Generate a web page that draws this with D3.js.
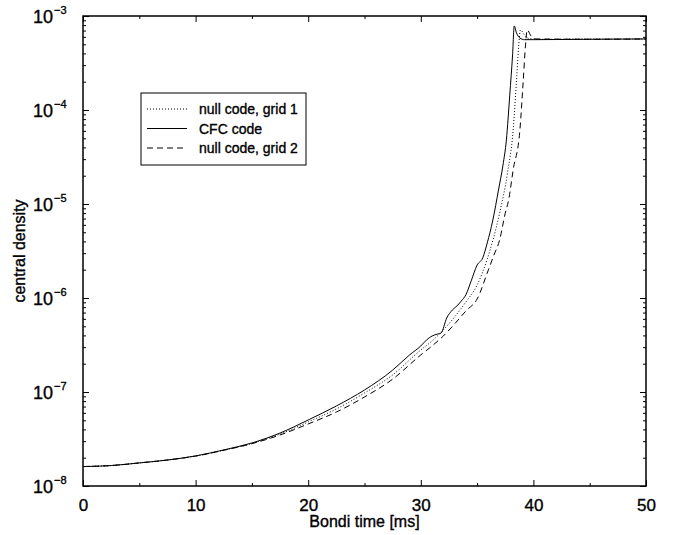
<!DOCTYPE html>
<html>
<head>
<meta charset="utf-8">
<script src="https://cdn.jsdelivr.net/npm/d3@7"></script>
<style>
  html, body { margin: 0; padding: 0; background: #fff; }
  svg { display: block; font-family: "Liberation Sans", Arial, Helvetica, sans-serif; }
  text { fill: #000; stroke: #000; stroke-width: 0.35px; }
</style>
</head>
<body>
<svg id="chart" width="673" height="535"></svg>
<script>
// Central density vs Bondi time for three runs
const xTicks = [0, 10, 20, 30, 40, 50];
const xMinorTicks = [5, 15, 25, 35, 45];
const yExponents = [-8, -7, -6, -5, -4, -3];

const legendLabels = ["null code, grid 1", "CFC code", "null code, grid 2"];

// null code, grid 1 (dotted)
const grid1Time = [0, 2.5, 5, 7.5, 10, 12.5, 15, 17.5, 20, 22.5, 25, 27.5, 30, 31, 32, 33, 34, 35, 35.9, 37, 37.7, 38.2, 38.5, 38.7, 38.85, 39.2, 39.6, 40.5, 45, 50];
const grid1Density = [1.61e-8, 1.65e-8, 1.76e-8, 1.89e-8, 2.08e-8, 2.4e-8, 2.83e-8, 3.57e-8, 4.8e-8, 6.6e-8, 9.75e-8, 1.52e-7, 2.8e-7, 3.49e-7, 4.57e-7, 6.28e-7, 9.07e-7, 1.37e-6, 2.6e-6, 8.0e-6, 2.14e-5, 6.1e-5, 2.08e-4, 4.9e-4, 7.1e-4, 6.3e-4, 5.75e-4, 5.65e-4, 5.7e-4, 5.7e-4];

// CFC code (solid)
const cfcTime = [0, 2.5, 5, 7.5, 10, 12.5, 15, 17.5, 20, 22.5, 25, 27.5, 29, 30, 30.5, 31, 31.5, 31.8, 32.3, 32.8, 33.3, 33.6, 34, 34.5, 35, 35.5, 35.9, 36.4, 36.9, 37.3, 37.6, 37.9, 38.15, 38.3, 38.5, 38.8, 39.2, 40, 45, 50];
const cfcDensity = [1.61e-8, 1.65e-8, 1.76e-8, 1.89e-8, 2.09e-8, 2.42e-8, 2.87e-8, 3.66e-8, 5.04e-8, 7.1e-8, 1.05e-7, 1.71e-7, 2.48e-7, 3.09e-7, 3.57e-7, 3.94e-7, 4.14e-7, 4.24e-7, 6.12e-7, 7.45e-7, 8.43e-7, 9.3e-7, 1.08e-6, 1.55e-6, 2.24e-6, 2.67e-6, 3.85e-6, 6.76e-6, 1.41e-5, 2.6e-5, 4.8e-5, 1.44e-4, 3.85e-4, 7.83e-4, 6.6e-4, 5.83e-4, 5.6e-4, 5.6e-4, 5.65e-4, 5.7e-4];

// null code, grid 2 (dashed)
const grid2Time = [0, 2.5, 5, 7.5, 10, 12.5, 15, 17.5, 20, 22.5, 25, 27.5, 30, 31, 32, 33, 34, 35, 36, 36.5, 37, 37.5, 37.8, 38.2, 38.8, 39.1, 39.3, 39.45, 39.8, 40.3, 45, 50];
const grid2Density = [1.61e-8, 1.65e-8, 1.76e-8, 1.89e-8, 2.08e-8, 2.4e-8, 2.82e-8, 3.49e-8, 4.57e-8, 6.12e-8, 8.85e-8, 1.37e-7, 2.48e-7, 3.09e-7, 3.94e-7, 5.29e-7, 7.27e-7, 9.75e-7, 1.99e-6, 2.87e-6, 4.14e-6, 8.0e-6, 1.1e-5, 2.3e-5, 6.1e-5, 2.08e-4, 4.9e-4, 7.1e-4, 6.1e-4, 5.7e-4, 5.65e-4, 5.7e-4];

const svg = d3.select("#chart");
const plotLeft = 83, plotRight = 646, plotTop = 16, plotBottom = 486;

const x = d3.scaleLinear().domain([0, 50]).range([plotLeft, plotRight]);
const y = d3.scaleLog().domain([1e-8, 1e-3]).range([plotBottom, plotTop]);

const series = [
  { time: grid1Time, value: grid1Density, dash: "1,2" },
  { time: cfcTime, value: cfcDensity, dash: null },
  { time: grid2Time, value: grid2Density, dash: "6,4" }
];

const line = d3.line()
  .x(d => x(d[0]))
  .y(d => y(d[1]))
  .curve(d3.curveMonotoneX);

const plot = svg.append("g");
series.forEach(s => {
  plot.append("path")
    .datum(s.time.map((t, i) => [t, s.value[i]]))
    .attr("d", line)
    .attr("fill", "none")
    .attr("stroke", "#000")
    .attr("stroke-width", 1)
    .attr("stroke-dasharray", s.dash);
});

// Frame with inward ticks on all four sides
const majorLen = 6, minorLen = 3;

const axisBottom = d3.axisBottom(x).tickValues(xTicks).tickSizeInner(-majorLen).tickSizeOuter(0).tickPadding(13).tickFormat(d3.format("d"));
const gB = svg.append("g").attr("transform", `translate(0,${plotBottom})`).call(axisBottom);
gB.select(".domain").remove();
gB.selectAll("text").attr("font-size", 17).attr("font-family", "Liberation Sans, Arial, sans-serif");

const minorB = d3.axisBottom(x).tickValues(xMinorTicks).tickSizeInner(-minorLen).tickSizeOuter(0).tickFormat("");
svg.append("g").attr("transform", `translate(0,${plotBottom})`).call(minorB).select(".domain").remove();

const axisTop = d3.axisTop(x).tickValues(xTicks).tickSizeInner(-majorLen).tickSizeOuter(0).tickFormat("");
svg.append("g").attr("transform", `translate(0,${plotTop})`).call(axisTop).select(".domain").remove();
const minorT = d3.axisTop(x).tickValues(xMinorTicks).tickSizeInner(-minorLen).tickSizeOuter(0).tickFormat("");
svg.append("g").attr("transform", `translate(0,${plotTop})`).call(minorT).select(".domain").remove();

const majorY = yExponents.map(e => Math.pow(10, e));
const minorY = [];
yExponents.slice(0, -1).forEach(e => {
  for (let k = 2; k <= 9; k++) minorY.push(k * Math.pow(10, e));
});

const axisLeft = d3.axisLeft(y).tickValues(majorY).tickSizeInner(-majorLen).tickSizeOuter(0).tickFormat("");
svg.append("g").attr("transform", `translate(${plotLeft},0)`).call(axisLeft).select(".domain").remove();
const minorL = d3.axisLeft(y).tickValues(minorY).tickSizeInner(-minorLen).tickSizeOuter(0).tickFormat("");
svg.append("g").attr("transform", `translate(${plotLeft},0)`).call(minorL).select(".domain").remove();
const axisRight = d3.axisRight(y).tickValues(majorY).tickSizeInner(-majorLen).tickSizeOuter(0).tickFormat("");
svg.append("g").attr("transform", `translate(${plotRight},0)`).call(axisRight).select(".domain").remove();
const minorR = d3.axisRight(y).tickValues(minorY).tickSizeInner(-minorLen).tickSizeOuter(0).tickFormat("");
svg.append("g").attr("transform", `translate(${plotRight},0)`).call(minorR).select(".domain").remove();

svg.selectAll(".tick line").attr("stroke", "#000").attr("stroke-width", 1);

svg.append("rect")
  .attr("x", plotLeft).attr("y", plotTop)
  .attr("width", plotRight - plotLeft).attr("height", plotBottom - plotTop)
  .attr("fill", "none").attr("stroke", "#000").attr("stroke-width", 1.5);

// Log-axis labels as 10 with a superscript exponent
const yLabels = svg.append("g");
yExponents.forEach(e => {
  const yy = y(Math.pow(10, e));
  yLabels.append("text")
    .attr("x", 53).attr("y", yy + 7)
    .attr("text-anchor", "end")
    .attr("font-size", 18)
    .text("10");
  yLabels.append("text")
    .attr("x", 54).attr("y", yy - 2.5)
    .attr("text-anchor", "start")
    .attr("font-size", 11)
    .text("\u2212" + Math.abs(e));
});

svg.append("text")
  .attr("x", (plotLeft + plotRight) / 2).attr("y", 527)
  .attr("text-anchor", "middle")
  .attr("font-size", 16)
  .text("Bondi time [ms]");

svg.append("text")
  .attr("transform", `translate(25,${(plotTop + plotBottom) / 2}) rotate(-90)`)
  .attr("text-anchor", "middle")
  .attr("font-size", 16)
  .text("central density");

// Legend
const lg = svg.append("g");
lg.append("rect")
  .attr("x", 141).attr("y", 93)
  .attr("width", 165).attr("height", 72)
  .attr("fill", "#fff").attr("stroke", "#000").attr("stroke-width", 1);
series.forEach((s, i) => {
  const ly = 109 + i * 19.5;
  lg.append("line")
    .attr("x1", 147).attr("x2", 187)
    .attr("y1", ly).attr("y2", ly)
    .attr("stroke", "#000").attr("stroke-width", 1)
    .attr("stroke-dasharray", s.dash);
  lg.append("text")
    .attr("x", 199).attr("y", ly + 5)
    .attr("font-size", 14)
    .text(legendLabels[i]);
});
</script>
</body>
</html>
